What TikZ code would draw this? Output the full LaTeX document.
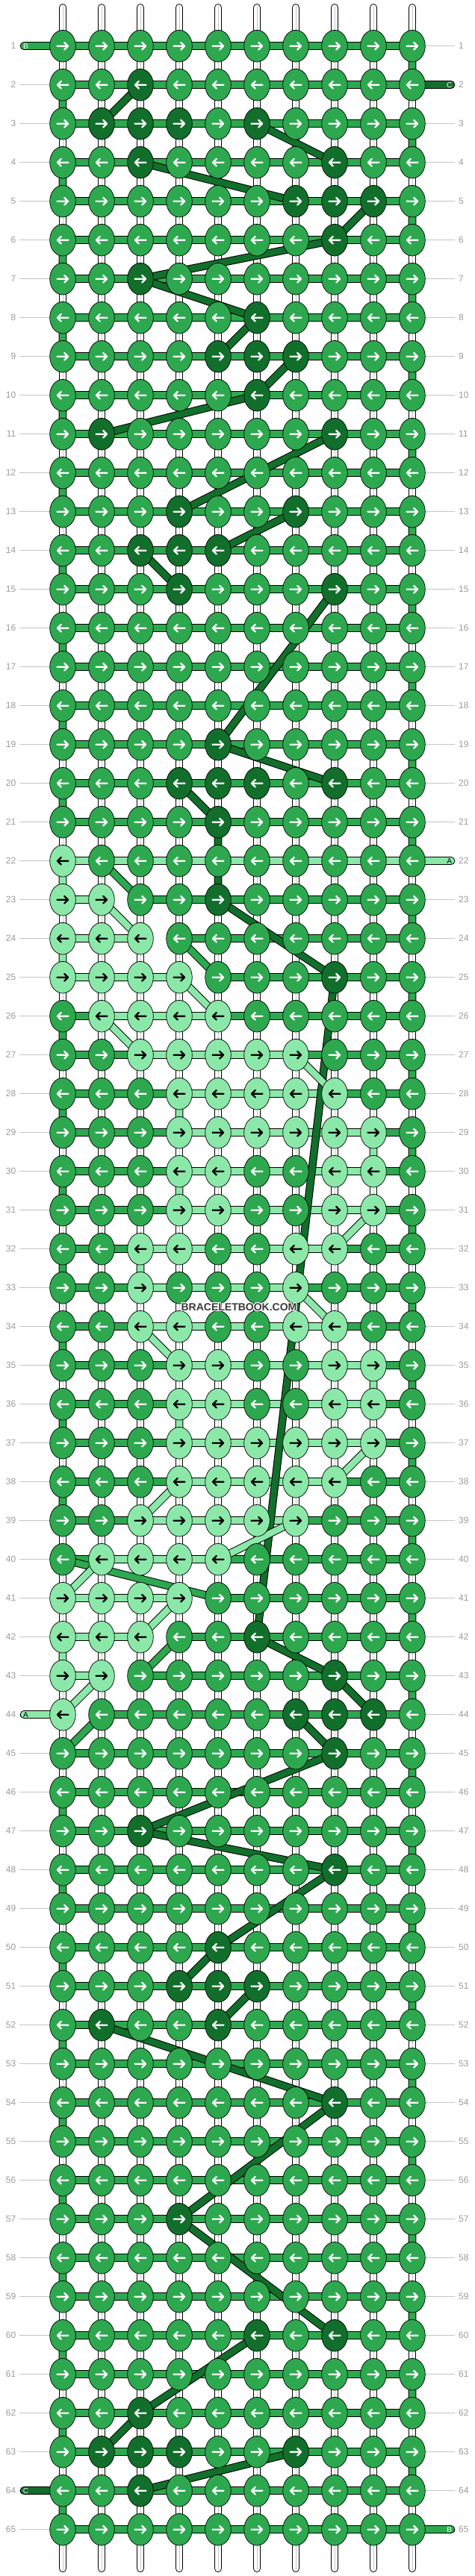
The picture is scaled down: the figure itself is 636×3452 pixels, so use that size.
\documentclass[tikz,border=0pt]{standalone}
\usepackage{fontspec}
\setmainfont{Liberation Sans}
\usetikzlibrary{shapes.geometric}
\definecolor{cM}{HTML}{2DA84F}
\definecolor{cD}{HTML}{116F2B}
\definecolor{cL}{HTML}{8BE8A9}
\definecolor{lblgray}{HTML}{9A9A9A}
\definecolor{lblline}{HTML}{C4C4C4}
\definecolor{wmgray}{HTML}{3A3A3A}
\tikzset{
 knot/.style={ellipse, draw=black, line width=0.7pt, minimum width=34.6pt, minimum height=42.6pt, inner sep=0pt, outer sep=0pt},
 throut/.style={line width=10.6pt, draw=black, line cap=round, line join=round},
 thrin/.style={line width=8.6pt, line cap=round, line join=round},
 strandout/.style={line width=10.6pt, draw=black, line cap=round},
 strandin/.style={line width=8.6pt, draw=white, line cap=round},
 strandmid/.style={line width=0.8pt, draw=black!22},
 lbl/.style={text=lblgray, font=\fontsize{12}{12}\selectfont, inner sep=0pt},
 lblln/.style={draw=lblline, line width=0.8pt},
 tagtxt/.style={font=\fontsize{10}{10}\selectfont, inner sep=0pt},
 arrw/.style={line width=2.3pt, line cap=round, line join=round},
 wm/.style={font=\bfseries\fontsize{14}{14}\selectfont, inner sep=0pt}
}
\begin{document}
\begin{tikzpicture}[x=1pt,y=-1pt]
\useasboundingbox (0,0) rectangle (636,3452);
% knot colours (default medium)
\foreach \r/\cc in {2/3,3/2,3/3,3/4,3/6,4/3,4/8,5/7,5/8,5/9,6/8,7/3,8/6,9/5,9/6,9/7,10/6,11/2,11/8,13/4,13/7,14/3,14/4,14/5,15/4,15/8,19/5,20/4,20/5,20/6,20/8,21/5,23/5,25/8,42/6,43/8,44/7,44/8,44/9,45/8,47/3,48/8,50/5,51/4,51/5,51/6,52/2,52/5,54/8,57/4,60/6,60/8,62/3,63/2,63/3,63/4,63/7,64/3}{\expandafter\xdef\csname kc-\r-\cc\endcsname{D}}
\foreach \r/\lst in {22/{1},23/{1,2},24/{1,2,3},25/{1,2,3,4},26/{2,3,4,5},27/{3,4,5,6,7},28/{4,5,6,7,8},29/{4,5,6,7,8,9},30/{4,5,8,9},31/{4,5,8,9},32/{3,4,7,8},33/{3,7},34/{3,4,7,8},35/{4,5,8,9},36/{4,5,8,9},37/{4,5,6,7,8,9},38/{4,5,6,7,8},39/{3,4,5,6,7},40/{2,3,4,5},41/{1,2,3,4},42/{1,2,3},43/{1,2},44/{1}}{\foreach \cc in \lst {\expandafter\xdef\csname kc-\r-\cc\endcsname{L}}}
% coordinates
\foreach \r in {1,...,65}{\foreach \cc in {1,...,10}{\coordinate (p-\r-\cc) at ({32+52*\cc},{9.7+52*\r});}}
\coordinate (tB1) at (32,61.7);
\coordinate (tC2) at (604,113.7);
\coordinate (tA22) at (604,1153.7);
\coordinate (tA44) at (32,2297.7);
\coordinate (tC64) at (32,3337.7);
\coordinate (tB65) at (604,3389.7);
% thread paths in snake order: h = along a row, d = from row to row
\gdef\hM{(tB1)}\gdef\dM{}\gdef\lrM{1}\gdef\lpM{tB1}
\gdef\hD{(tC2)}\gdef\dD{}\gdef\lrD{2}\gdef\lpD{tC2}
\gdef\hL{(tA22)}\gdef\dL{}\gdef\lrL{22}\gdef\lpL{tA22}
\foreach \r in {1,...,65}{
  \pgfmathtruncatemacro\odd{mod(\r,2)}
  \foreach \k in {1,...,10}{
    \ifnum\odd=1 \edef\cc{\k}\else\pgfmathtruncatemacro\cc{11-\k}\fi
    \ifcsname kc-\r-\cc\endcsname \edef\kc{\csname kc-\r-\cc\endcsname}\else\def\kc{M}\fi
    \edef\lr{\csname lr\kc\endcsname}
    \ifnum\lr=\r\relax
      \expandafter\xdef\csname h\kc\endcsname{\csname h\kc\endcsname\space -- (p-\r-\cc)}
    \else
      \expandafter\xdef\csname h\kc\endcsname{\csname h\kc\endcsname\space (p-\r-\cc)}
      \expandafter\xdef\csname d\kc\endcsname{\csname d\kc\endcsname\space (\csname lp\kc\endcsname) -- (p-\r-\cc)}
    \fi
    \expandafter\xdef\csname lr\kc\endcsname{\r}
    \expandafter\xdef\csname lp\kc\endcsname{p-\r-\cc}
  }
}
\xdef\hM{\hM\space -- (tB65)}
\xdef\hD{\hD\space -- (tC64)}
\xdef\hL{\hL\space -- (tA44)}
% row labels
\foreach \r in {1,...,65}{
  \draw[lblln] (26,{9.7+52*\r}) -- (67,{9.7+52*\r});
  \draw[lblln] (569,{9.7+52*\r}) -- (609,{9.7+52*\r});
  \node[lbl, anchor=east] (ll-\r) at (21.5,{9.7+52*\r}) {\r};
  \node[lbl, anchor=west] (lr-\r) at (614,{9.7+52*\r}) {\r};
}
% warp strands
\foreach \cc in {1,...,10}{
  \draw[strandout] ({32+52*\cc},10.3) -- ({32+52*\cc},3441.7);
  \draw[strandin] ({32+52*\cc},10.3) -- ({32+52*\cc},3441.7);
  \draw[strandmid] ({32+52*\cc},8) -- ({32+52*\cc},3444);
}
% threads: row segments first, then links between rows
\draw[throut] \hD; \draw[thrin, draw=cD] \hD;
\draw[throut] \hM; \draw[thrin, draw=cM] \hM;
\draw[throut] \hL; \draw[thrin, draw=cL] \hL;
\draw[throut] \dD; \draw[thrin, draw=cD] \dD;
\draw[throut] \dM; \draw[thrin, draw=cM] \dM;
\draw[throut] \dL; \draw[thrin, draw=cL] \dL;
% tag letters
\node[tagtxt, text=white] (nB1) at (34.5,61.7) {B};
\node[tagtxt, text=white] (nC2) at (601.8,113.7) {C};
\node[tagtxt, text=black] (nA22) at (601.8,1153.7) {A};
\node[tagtxt, text=black] (nA44) at (34.5,2297.7) {A};
\node[tagtxt, text=white] (nC64) at (34.5,3337.7) {C};
\node[tagtxt, text=white] (nB65) at (601.8,3389.7) {B};
% knots
\def\Lstr{L}
\foreach \r in {1,...,65}{
  \pgfmathtruncatemacro\odd{mod(\r,2)}
  \ifnum\odd=1 \def\xs{1}\else\def\xs{-1}\fi
  \foreach \cc in {1,...,10}{
    \ifcsname kc-\r-\cc\endcsname \edef\kc{\csname kc-\r-\cc\endcsname}\else\def\kc{M}\fi
    \ifx\kc\Lstr \def\ac{black}\else\def\ac{white}\fi
    \node[knot, fill=c\kc] (k-\r-\cc) at (p-\r-\cc) {};
    \draw[arrw, draw=\ac, shift={(p-\r-\cc)}, xscale=\xs] (-7.5,0) -- (7,0) (2.2,-4.8) -- (7,0) -- (2.2,4.8);
  }
}
% watermark
\foreach \dx/\dy in {-1/0,1/0,0/-1,0/1,-1/-1,1/1,-1/1,1/-1}{
  \node[wm, text=white] at ({320+\dx},{1752+\dy}) {BRACELETBOOK.COM};
}
\node[wm, text=wmgray] (wm) at (320,1752) {BRACELETBOOK.COM};
\end{tikzpicture}
\end{document}
